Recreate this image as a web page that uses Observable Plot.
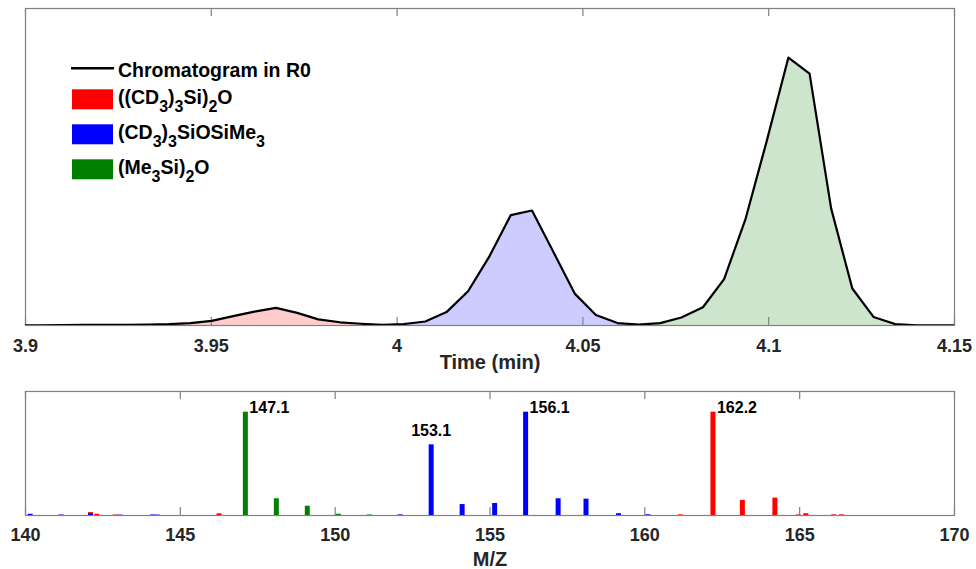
<!DOCTYPE html>
<html><head><meta charset="utf-8">
<script src="https://cdn.jsdelivr.net/npm/d3@7"></script>
<script src="https://cdn.jsdelivr.net/npm/@observablehq/plot@0.6"></script>
<style>
body{margin:0;background:#fff;}
#chart{position:relative;width:976px;height:569px;font-family:"Liberation Sans",Arial,sans-serif;}
#chart svg{display:block;}
</style></head><body><div id="chart"></div>
<script>
// ---- Chromatogram (top panel) ----
const times = [3.8984,3.9041,3.9099,3.9156,3.9214,3.9271,3.9329,3.9386,3.9444,3.9501,3.9559,3.9616,
  3.9674,3.9731,3.9788,3.9846,3.9903,3.9961,4.0018,4.0076,4.0133,4.0191,4.0248,4.0306,4.0363,4.0420,
  4.0478,4.0535,4.0593,4.0650,4.0708,4.0765,4.0823,4.0880,4.0938,4.0995,4.1053,4.1110,4.1168,4.1225,
  4.1282,4.1340,4.1397,4.1455,4.1512];
const intensity = [0.1,0.1,0.15,0.2,0.2,0.25,0.35,0.5,0.9,1.75,3.5,5.2,
  6.6,4.7,2.3,1.2,0.65,0.25,0.55,1.5,5.0,12.8,25.7,41.2,42.9,27.6,
  11.9,3.9,0.9,0.35,0.9,3.0,6.8,17.3,39.9,69.0,100,94.0,43.7,13.8,
  3.2,0.55,0.05,0.05,0.05];
const fillBounds = [3.9961, 4.0650];   // red | blue | green regions
const timeTicks = [3.9, 3.95, 4, 4.05, 4.1, 4.15];

// ---- Legend ----
const lineLegend = "Chromatogram in R0";
const compounds = ["((CD_3)_3Si)_2O", "(CD_3)_3SiOSiMe_3", "(Me_3Si)_2O"];
const compoundColors = ["#ff0000", "#0000ff", "#008000"];
const fillColors = ["#ffcccc", "#ccccff", "#cce5cc"];

// ---- Mass spectrum (bottom panel) ----
const mzTicks = [140, 145, 150, 155, 160, 165, 170];
const redMz = [142.1, 142.3, 142.9, 146.25, 161.15, 162.2, 163.15, 164.2, 164.95, 165.2, 166.1, 166.35];
const redAb = [2.8, 1.2, 0.5, 1.6, 0.6, 100, 14.5, 16.8, 0.5, 1.7, 0.6, 0.6];
const blueMz = [140.15, 141.15, 142.1, 143.05, 144.1, 144.25, 152.1, 153.1, 154.1, 155.15, 156.15, 157.2, 158.1, 159.15, 160.1];
const blueAb = [1.2, 0.5, 1.4, 0.4, 0.5, 0.4, 0.6, 68.4, 10.6, 11.6, 100, 16.2, 15.8, 1.7, 0.7];
const greenMz = [147.1, 148.1, 149.1, 150.1, 151.1];
const greenAb = [100, 16.2, 9.0, 1.2, 0.5];
const peakLabelMz = [147.1, 153.1, 156.15, 162.2];
const peakLabelText = ["147.1", "153.1", "156.1", "162.2"];

const FONT = '"Liberation Sans", Arial, sans-serif';
const GRAY = "#808080";
const TXT = "#262626";

const chrom = times.map((t, i) => ({t, v: intensity[i]}));
const segs = [
  chrom.filter(d => d.t <= fillBounds[0]),
  chrom.filter(d => d.t >= fillBounds[0] && d.t <= fillBounds[1]),
  chrom.filter(d => d.t >= fillBounds[1])
];

const topPlot = Plot.plot({
  width: 976, height: 380,
  marginTop: 8, marginBottom: 55, marginLeft: 25, marginRight: 22,
  style: {fontFamily: FONT, background: "white", overflow: "visible"},
  x: {domain: [3.9, 4.15]},
  y: {domain: [0, 118.3], axis: null},
  marks: [
    ...segs.map((s, i) => Plot.areaY(s, {x: "t", y: "v", fill: fillColors[i], clip: true})),
    Plot.frame({stroke: GRAY, strokeWidth: 1.2}),
    Plot.tickX(timeTicks, {x: d => d, stroke: GRAY, strokeWidth: 1.2, insetTop: 309}),
    Plot.tickX(timeTicks, {x: d => d, stroke: GRAY, strokeWidth: 1.2, insetBottom: 309}),
    Plot.line(chrom, {x: "t", y: "v", stroke: "black", strokeWidth: 2.2, clip: true}),
    Plot.axisX(timeTicks, {tickSize: 0, tickPadding: 14, tickFormat: d => String(d), fontSize: 18, fontWeight: "bold", fill: TXT, label: null}),
    Plot.text(["Time (min)"], {x: null, y: null, frameAnchor: "bottom", lineAnchor: "middle", dy: 37, text: d => d, fontSize: 20, fontWeight: "bold", fill: TXT})
  ]
});

// legend drawn into the top SVG
function rich(sel, s) {
  const parts = s.split(/(_\d+)/).filter(p => p);
  let shifted = false;
  for (const p of parts) {
    if (p.startsWith("_")) {
      sel.append("tspan").attr("font-size", 16).attr("dy", shifted ? 0 : 8).text(p.slice(1));
      shifted = true;
    } else {
      sel.append("tspan").attr("dy", shifted ? -8 : 0).text(p);
      shifted = false;
    }
  }
}
const lg = d3.select(topPlot).append("g")
  .attr("font-family", FONT).attr("font-weight", "bold").attr("font-size", 19.5)
  .attr("fill", "black").attr("text-anchor", "start");
lg.append("line").attr("x1", 71).attr("x2", 114).attr("y1", 68.3).attr("y2", 68.3)
  .attr("stroke", "black").attr("stroke-width", 2.5);
lg.append("text").attr("x", 118).attr("y", 77.3).text(lineLegend);
compounds.forEach((c, i) => {
  lg.append("rect").attr("x", 72).attr("y", 89.3 + 35 * i).attr("width", 41).attr("height", 20)
    .attr("fill", compoundColors[i]);
  rich(lg.append("text").attr("x", 118).attr("y", 104.3 + 35 * i), c);
});

const red = redMz.map((m, i) => ({mz: m, ab: redAb[i]}));
const blue = blueMz.map((m, i) => ({mz: m, ab: blueAb[i]}));
const green = greenMz.map((m, i) => ({mz: m, ab: greenAb[i]}));
const allPeaks = [...red, ...blue, ...green];
const labels = peakLabelMz.map((m, i) => ({mz: m, ab: allPeaks.find(p => p.mz === m).ab, text: peakLabelText[i]}));
const aboveLabels = new Set(["153.1"]);

const botPlot = Plot.plot({
  width: 976, height: 189,
  marginTop: 11, marginBottom: 54, marginLeft: 25, marginRight: 22,
  style: {fontFamily: FONT, background: "white", overflow: "visible"},
  x: {domain: [140, 170]},
  y: {domain: [0, 120], axis: null},
  marks: [
    Plot.frame({stroke: GRAY, strokeWidth: 1.2}),
    Plot.tickX(mzTicks, {x: d => d, stroke: GRAY, strokeWidth: 1.2, insetTop: 116}),
    Plot.tickX(mzTicks, {x: d => d, stroke: GRAY, strokeWidth: 1.2, insetBottom: 116}),
    Plot.ruleX(red, {x: "mz", y1: 0, y2: "ab", stroke: compoundColors[0], strokeWidth: 5}),
    Plot.ruleX(blue, {x: "mz", y1: 0, y2: "ab", stroke: compoundColors[1], strokeWidth: 5}),
    Plot.ruleX(green, {x: "mz", y1: 0, y2: "ab", stroke: compoundColors[2], strokeWidth: 5}),
    Plot.text(labels.filter(d => !aboveLabels.has(d.text)), {x: "mz", y: "ab", text: "text", textAnchor: "start", lineAnchor: "bottom", dx: 4, dy: 0.5, fontSize: 16, fontWeight: "bold", fill: "black"}),
    Plot.text(labels.filter(d => aboveLabels.has(d.text)), {x: "mz", y: "ab", text: "text", textAnchor: "middle", lineAnchor: "bottom", dy: -9, fontSize: 16, fontWeight: "bold", fill: "black"}),
    Plot.axisX(mzTicks, {tickSize: 0, tickPadding: 13, tickFormat: d => String(d), fontSize: 18, fontWeight: "bold", fill: TXT, label: null}),
    Plot.text(["M/Z"], {x: null, y: null, frameAnchor: "bottom", lineAnchor: "middle", dy: 44, text: d => d, fontSize: 20, fontWeight: "bold", fill: TXT})
  ]
});

const chart = document.getElementById("chart");
chart.append(topPlot, botPlot);
</script></body></html>
